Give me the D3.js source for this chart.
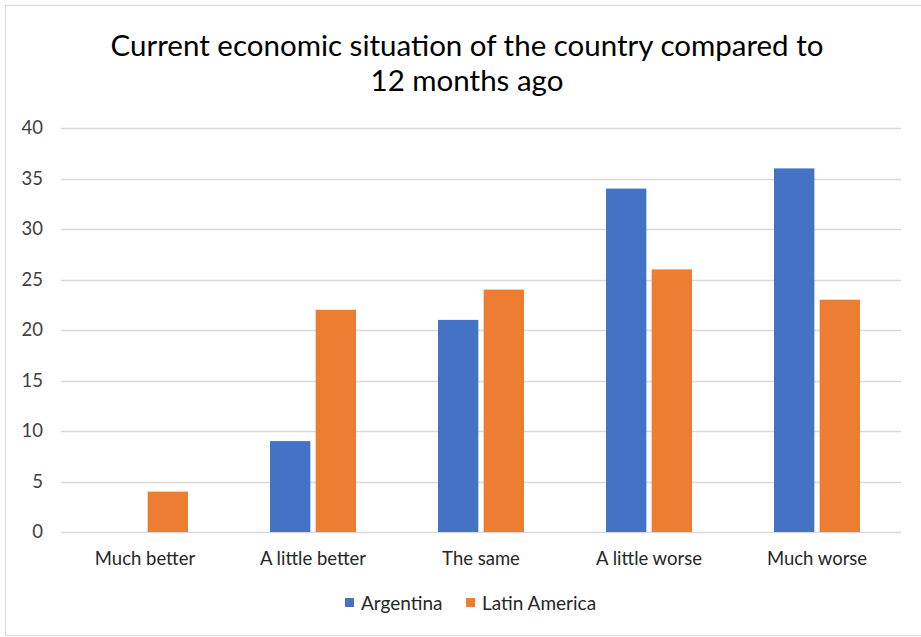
<!DOCTYPE html>
<html>
<head>
<meta charset="utf-8">
<script src="https://cdn.jsdelivr.net/npm/d3@7"></script>
<style>
  body { margin: 0; background: #fff; }
  svg { display: block; font-family: Lato, "Open Sans", sans-serif; }
</style>
</head>
<body>
<svg id="chart" width="921" height="637"></svg>
<script>
// Survey answers and the share (%) for each series
const categories = ["Much better", "A little better", "The same", "A little worse", "Much worse"];
const argentina = [0, 9, 21, 34, 36];
const latinAmerica = [4, 22, 24, 26, 23];
const seriesNames = ["Argentina", "Latin America"];
const yTicks = [0, 5, 10, 15, 20, 25, 30, 35, 40];
const titleLines = ["Current economic situation of the country compared to", "12 months ago"];

const colors = ["#4472C4", "#ED7D31"];
const svg = d3.select("#chart");

// chart frame
svg.append("rect")
  .attr("x", 5.5).attr("y", 5.5)
  .attr("width", 930).attr("height", 630)
  .attr("fill", "#fff").attr("stroke", "#d9d9d9").attr("stroke-width", 1);

const plotLeft = 61, plotRight = 901, plotTop = 128, plotBottom = 532;

const x = d3.scaleBand().domain(categories).range([plotLeft, plotRight]);
const y = d3.scaleLinear().domain([0, 40]).range([plotBottom, plotTop]);

const barW = 38, barGap = 10;
const inner = d3.scaleBand().domain(seriesNames)
  .range([-(barW + barGap / 2), barW + barGap / 2])
  .paddingInner(barGap / (2 * barW + barGap));

// gridlines
svg.append("g")
  .selectAll("line")
  .data(yTicks)
  .join("line")
  .attr("x1", plotLeft).attr("x2", plotRight)
  .attr("y1", d => Math.round(y(d)) + 0.5).attr("y2", d => Math.round(y(d)) + 0.5)
  .attr("stroke", "#d9d9d9").attr("stroke-width", 1.3);

// y-axis labels
const yAxis = d3.axisLeft(y).tickValues(yTicks).tickSize(0).tickPadding(0);
const yg = svg.append("g").attr("transform", `translate(${43},0)`).call(yAxis);
yg.select(".domain").remove();
yg.selectAll("text").attr("font-size", 18.5).attr("fill", "#404040")
  .attr("font-family", "Lato, sans-serif");

// bars
const rows = categories.map((c, i) => ({ cat: c, vals: [argentina[i], latinAmerica[i]] }));
const groups = svg.append("g").selectAll("g")
  .data(rows).join("g")
  .attr("transform", d => `translate(${x(d.cat) + x.bandwidth() / 2},0)`);
groups.selectAll("rect")
  .data(d => d.vals.map((v, k) => ({ v, k })))
  .join("rect")
  .attr("x", d => inner(seriesNames[d.k]))
  .attr("width", inner.bandwidth())
  .attr("y", d => y(d.v))
  .attr("height", d => y(0) - y(d.v))
  .attr("fill", d => colors[d.k]);

// category labels
const xAxis = d3.axisBottom(x).tickSize(0).tickPadding(0);
const xg = svg.append("g").attr("transform", `translate(0,${552})`).call(xAxis);
xg.select(".domain").remove();
xg.selectAll("text").attr("font-size", 18.5).attr("fill", "#262626")
  .attr("font-family", "Lato, sans-serif");

// title
svg.append("g").selectAll("text")
  .data(titleLines).join("text")
  .attr("x", 467).attr("y", (d, i) => 56 + i * 35)
  .attr("text-anchor", "middle")
  .attr("font-size", 29.5).attr("fill", "#000")
  .text(d => d);

// legend
const legendItems = [{ name: seriesNames[0], x: 345 }, { name: seriesNames[1], x: 466 }];
const lg = svg.append("g").selectAll("g").data(legendItems).join("g")
  .attr("transform", d => `translate(${d.x},${598})`);
lg.append("rect").attr("width", 9).attr("height", 9)
  .attr("fill", (d, i) => colors[i]);
lg.append("text").attr("x", 16).attr("y", 11.5)
  .attr("font-size", 19).attr("fill", "#262626")
  .text(d => d.name);
</script>
</body>
</html>
